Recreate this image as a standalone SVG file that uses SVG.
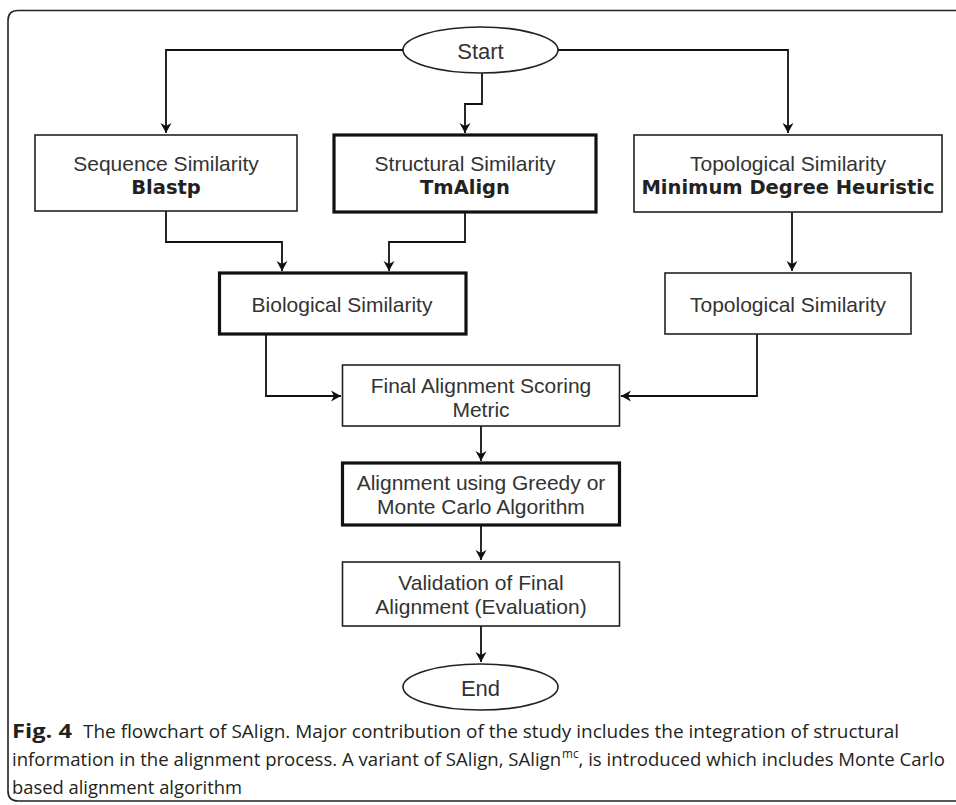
<svg xmlns="http://www.w3.org/2000/svg" width="956" height="805" viewBox="0 0 956 805">
<defs>
<marker id="arr" markerWidth="12" markerHeight="12" viewBox="-11 -6 12 12" refX="0" refY="0" orient="auto" markerUnits="userSpaceOnUse">
<path d="M0,0 L-10,-5.5 L-7,0 L-10,5.5 Z" fill="#111"/>
</marker>
<style>
.box{fill:#fff;stroke:#222;stroke-width:1.6}
.thick{fill:#fff;stroke:#111;stroke-width:3.2}
.t{font-family:"Liberation Sans",Arial,sans-serif;font-size:21px;fill:#333;text-anchor:middle}
.b{font-family:"DejaVu Sans",Verdana,sans-serif;font-weight:bold;font-size:19.5px;fill:#222;text-anchor:middle}
.c{stroke:#111;stroke-width:1.8;fill:none}
.cap{font-family:"Open Sans",sans-serif;font-size:19px;fill:#231f20}
</style>
</defs>
<path d="M956,10.5 H18 Q8,10.5 8,20.5 V791 Q8,801 18,801 H956" fill="none" stroke="#222" stroke-width="1.6"/>
<g id="connectors">
<path class="c" d="M403,50 H166 V133" marker-end="url(#arr)"/>
<path class="c" d="M558,50 H788 V133" marker-end="url(#arr)"/>
<path class="c" d="M482,73 V104 H465 V133" marker-end="url(#arr)"/>
<path class="c" d="M166,211 V242 H282 V271" marker-end="url(#arr)"/>
<path class="c" d="M465,212 V242 H389 V271" marker-end="url(#arr)"/>
<path class="c" d="M792,212 V271" marker-end="url(#arr)"/>
<path class="c" d="M266,334 V396 H341" marker-end="url(#arr)"/>
<path class="c" d="M757,334 V396 H621" marker-end="url(#arr)"/>
<path class="c" d="M481,426 V461" marker-end="url(#arr)"/>
<path class="c" d="M481,525 V560" marker-end="url(#arr)"/>
<path class="c" d="M481,626 V662" marker-end="url(#arr)"/>
</g>
<g id="start">
<ellipse cx="480.5" cy="50" rx="77.5" ry="23" class="box"/>
<text x="480.5" y="59" class="t" style="font-size:22px">Start</text>
</g>
<g id="seq">
<rect x="35" y="135" width="262" height="76" class="box"/>
<text x="166" y="171" class="t">Sequence Similarity</text>
<text x="166" y="194" class="b">Blastp</text>
</g>
<g id="struct">
<rect x="334" y="135" width="262" height="77" class="thick"/>
<text x="465" y="171" class="t">Structural Similarity</text>
<text x="465" y="194" class="b">TmAlign</text>
</g>
<g id="topo1">
<rect x="634" y="135" width="308" height="77" class="box"/>
<text x="788" y="171" class="t">Topological Similarity</text>
<text x="788" y="194" class="b">Minimum Degree Heuristic</text>
</g>
<g id="bio">
<rect x="219.5" y="273" width="246.5" height="61" class="thick"/>
<text x="342" y="312" class="t">Biological Similarity</text>
</g>
<g id="topo2">
<rect x="665" y="273" width="246" height="61" class="box"/>
<text x="788" y="312" class="t">Topological Similarity</text>
</g>
<g id="final">
<rect x="342.5" y="365" width="277" height="61" class="box"/>
<text x="481" y="393" class="t">Final Alignment Scoring</text>
<text x="481" y="417" class="t">Metric</text>
</g>
<g id="align">
<rect x="342.5" y="463" width="277" height="62" class="thick"/>
<text x="481" y="490" class="t">Alignment using Greedy or</text>
<text x="481" y="514" class="t">Monte Carlo Algorithm</text>
</g>
<g id="valid">
<rect x="342.5" y="562" width="277" height="64" class="box"/>
<text x="481" y="590" class="t">Validation of Final</text>
<text x="481" y="614" class="t">Alignment (Evaluation)</text>
</g>
<g id="end">
<ellipse cx="480.5" cy="687" rx="77.5" ry="23" class="box"/>
<text x="480.5" y="696" class="t" style="font-size:22px">End</text>
</g>
<g id="caption">
<text x="12" y="738" class="cap" font-weight="bold" textLength="60" lengthAdjust="spacingAndGlyphs">Fig. 4</text>
<text x="83" y="738" class="cap" textLength="816" lengthAdjust="spacingAndGlyphs">The flowchart of SAlign. Major contribution of the study includes the integration of structural</text>
<text x="12" y="766" class="cap" textLength="933" lengthAdjust="spacingAndGlyphs">information in the alignment process. A variant of SAlign, SAlign<tspan dx="1" dy="-8" font-size="12">mc</tspan><tspan dy="8">, is introduced which includes Monte Carlo</tspan></text>
<text x="12" y="794" class="cap" textLength="230" lengthAdjust="spacingAndGlyphs">based alignment algorithm</text>
</g>
</svg>
